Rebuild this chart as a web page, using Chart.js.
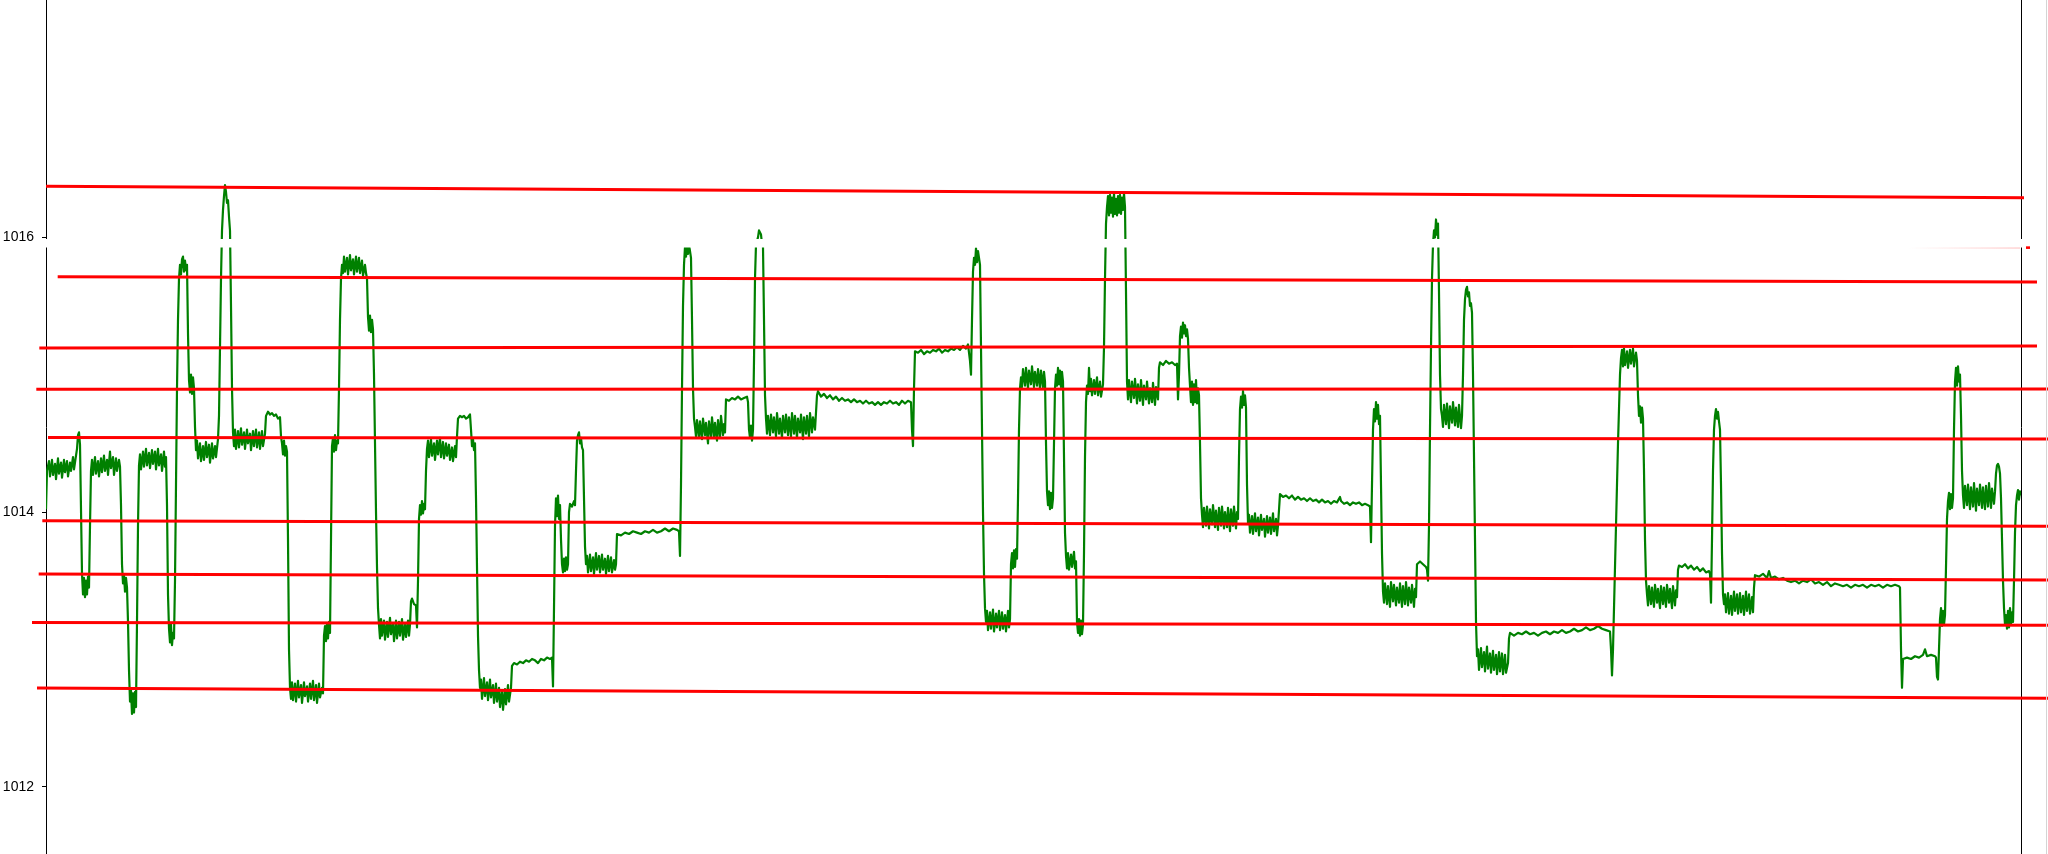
<!DOCTYPE html>
<html><head><meta charset="utf-8">
<script src="https://cdn.jsdelivr.net/npm/chart.js@4.4.1/dist/chart.umd.min.js"></script>
<style>html,body{margin:0;padding:0;background:#fff;overflow:hidden}#wrap{position:relative;width:2048px;height:854px}#edge{position:absolute;left:2046px;top:0;width:1px;height:854px;background:#d4d4d4}</style>
</head><body><div id="wrap"><canvas id="c" width="2048" height="854"></canvas><div id="edge"></div></div>
<script>
// ---- data ----
const yTicks = [1012, 1014, 1016];
const yRange = [1011.51, 1017.728];
const timeRange = [0, 1975];
// level lines: [tStart, hPaStart, tEnd, hPaEnd]
const levelLines = [
  [0, 1016.371, 1978, 1016.288],
  [11.7, 1015.713, 1991, 1015.675],
  [-6.7, 1015.194, 1991, 1015.209],
  [-9.7, 1014.893, 2002, 1014.896],
  [2, 1014.543, 2002, 1014.531],
  [-3.7, 1013.937, 2002, 1013.897],
  [-7.3, 1013.549, 2002, 1013.505],
  [-14, 1013.196, 2002, 1013.175],
  [-9, 1012.719, 2002, 1012.644]
];
const maskLine = [[-2, 1015.956], [1979, 1015.956]];
const maskTrace = [[1862, 1015.922], [1974, 1015.922]];
const maskTip = [[1980, 1015.925], [1984, 1015.925]];
const pressureSamples = [
[0,1014.02],[1,1014.30],[3,1014.37],[4,1014.26],[6,1014.38],[7,1014.27],[9,1014.35],[10,1014.24],[12,1014.39],[13,1014.28],[15,1014.36],[16,1014.25],[18,1014.38],[19,1014.29],[21,1014.37],[22,1014.26],[24,1014.36],[25,1014.30],[27,1014.40],[28,1014.31],[30,1014.41],[31,1014.46],[32,1014.56],[33,1014.58],[34,1014.49],
[36,1013.55],[37,1013.40],[38,1013.52],[39,1013.38],[40,1013.50],[41,1013.40],[42,1013.53],[43,1013.45],[44,1013.90],[45,1014.30],
[46,1014.38],[47,1014.27],[49,1014.40],[50,1014.28],[52,1014.37],[53,1014.26],[55,1014.39],[56,1014.29],[58,1014.41],[59,1014.30],[61,1014.38],[62,1014.27],[64,1014.44],[65,1014.32],[67,1014.40],[68,1014.27],[70,1014.39],[71,1014.30],[73,1014.38],[74,1014.33],
[75,1014.05],[76,1013.62],[77,1013.48],[78,1013.54],[79,1013.42],[80,1013.52],[81,1013.45],[82,1013.20],[83,1012.85],[84,1012.62],[85,1012.70],[86,1012.53],[87,1012.68],[88,1012.54],[89,1012.69],[90,1012.58],[91,1013.20],[92,1013.90],[93,1014.34],
[94,1014.42],[95,1014.31],[97,1014.44],[98,1014.33],[100,1014.46],[101,1014.34],[103,1014.43],[104,1014.32],[106,1014.45],[107,1014.35],[109,1014.44],[110,1014.31],[112,1014.46],[113,1014.34],[115,1014.42],[116,1014.30],[118,1014.44],[119,1014.33],[120,1014.40],
[121,1014.05],[122,1013.40],[123,1013.15],[124,1013.05],[125,1013.18],[126,1013.03],[127,1013.12],[128,1013.08],[129,1013.50],[130,1014.20],[131,1014.90],[132,1015.40],[133,1015.70],
[134,1015.80],[135,1015.73],[136,1015.84],[137,1015.86],[138,1015.75],[139,1015.83],[140,1015.76],[141,1015.80],[142,1015.30],[143,1014.96],[144,1014.87],[145,1015.00],[146,1014.86],[147,1014.98],[148,1014.90],[149,1014.62],[150,1014.45],
[151,1014.52],[152,1014.39],[154,1014.50],[155,1014.37],[157,1014.48],[158,1014.38],[160,1014.51],[161,1014.40],[163,1014.49],[164,1014.36],[166,1014.50],[167,1014.39],[169,1014.48],[170,1014.40],[172,1014.53],
[173,1014.70],[174,1015.20],[175,1015.70],[176,1016.05],[177,1016.20],[178,1016.30],[179,1016.38],[180,1016.33],[181,1016.25],[182,1016.27],[183,1016.15],[184,1016.05],[185,1015.50],[186,1014.90],[187,1014.58],
[188,1014.48],[189,1014.60],[190,1014.46],[192,1014.59],[193,1014.47],[195,1014.61],[196,1014.49],[198,1014.58],[199,1014.46],[201,1014.60],[202,1014.50],[204,1014.57],[205,1014.45],[207,1014.59],[208,1014.48],[210,1014.60],[211,1014.47],[213,1014.58],[214,1014.46],[216,1014.59],[217,1014.48],[219,1014.57],
[220,1014.70],[222,1014.73],[224,1014.71],[226,1014.72],[228,1014.70],[230,1014.71],[232,1014.68],[234,1014.69],[235,1014.55],[236,1014.50],[237,1014.42],[238,1014.52],[239,1014.41],[240,1014.48],[241,1014.44],
[242,1013.80],[243,1013.00],[244,1012.72],
[245,1012.64],[246,1012.76],[247,1012.63],[249,1012.75],[250,1012.62],[252,1012.77],[253,1012.65],[255,1012.74],[256,1012.61],[258,1012.76],[259,1012.66],[261,1012.73],[262,1012.62],[264,1012.75],[265,1012.64],[267,1012.77],[268,1012.63],[270,1012.74],[271,1012.61],[273,1012.75],[274,1012.65],[276,1012.72],[277,1012.68],
[278,1013.10],[279,1013.17],[280,1013.06],[281,1013.19],[282,1013.08],[283,1013.20],[284,1013.12],[285,1013.80],[286,1014.48],[287,1014.54],[288,1014.44],[289,1014.56],[290,1014.45],[291,1014.52],[292,1014.50],[293,1014.90],[294,1015.40],[295,1015.70],[296,1015.80],
[297,1015.74],[298,1015.86],[299,1015.75],[301,1015.85],[302,1015.73],[304,1015.87],[305,1015.76],[307,1015.84],[308,1015.73],[310,1015.86],[311,1015.75],[313,1015.85],[314,1015.74],[316,1015.83],[317,1015.72],[319,1015.80],[320,1015.74],[321,1015.70],
[322,1015.42],[323,1015.32],[324,1015.43],[325,1015.31],[326,1015.40],[327,1015.33],[328,1015.00],[329,1014.50],[330,1014.00],[331,1013.60],[332,1013.30],[333,1013.18],
[334,1013.08],[335,1013.22],[336,1013.10],[338,1013.21],[339,1013.07],[341,1013.20],[342,1013.09],[344,1013.23],[345,1013.11],[347,1013.19],[348,1013.06],[350,1013.21],[351,1013.08],[353,1013.20],[354,1013.10],[356,1013.22],[357,1013.07],[359,1013.19],[360,1013.09],[362,1013.21],[363,1013.10],[364,1013.18],
[365,1013.35],[366,1013.37],[368,1013.33],[370,1013.32],[371,1013.16],[372,1013.50],[373,1013.95],[374,1014.05],[375,1013.98],[376,1014.08],[377,1013.99],[378,1014.06],[379,1014.02],[380,1014.30],[381,1014.46],
[382,1014.52],[383,1014.40],[385,1014.53],[386,1014.41],[388,1014.50],[389,1014.38],[391,1014.52],[392,1014.42],[394,1014.54],[395,1014.40],[397,1014.51],[398,1014.39],[400,1014.50],[401,1014.41],[403,1014.49],[404,1014.38],[406,1014.47],[407,1014.37],[409,1014.48],[410,1014.40],[411,1014.55],
[412,1014.68],[414,1014.70],[416,1014.69],[418,1014.70],[420,1014.68],[422,1014.69],[424,1014.71],[425,1014.60],[426,1014.48],[427,1014.53],[428,1014.45],[429,1014.50],[430,1014.10],[431,1013.60],[432,1013.10],[433,1012.85],[434,1012.72],
[435,1012.78],[436,1012.64],[438,1012.79],[439,1012.66],[441,1012.76],[442,1012.63],[444,1012.78],[445,1012.65],[447,1012.74],[448,1012.61],[450,1012.75],[451,1012.62],[453,1012.72],[454,1012.58],[456,1012.70],[457,1012.56],[459,1012.71],[460,1012.60],[462,1012.74],[463,1012.62],[465,1012.72],
[466,1012.88],[468,1012.90],[471,1012.89],[474,1012.91],[477,1012.90],[480,1012.92],[483,1012.91],[486,1012.93],[489,1012.92],[492,1012.90],[495,1012.93],[498,1012.92],[501,1012.94],[504,1012.93],[506,1012.94],[507,1012.73],[508,1013.30],[509,1013.90],[510,1014.10],
[511,1013.97],[512,1014.12],[513,1013.95],[514,1014.05],[515,1013.80],[516,1013.62],[517,1013.56],[518,1013.66],[519,1013.57],[520,1013.67],[521,1013.58],[522,1013.62],[523,1014.00],[524,1014.06],[526,1014.04],[528,1014.08],[529,1014.05],[530,1014.30],[531,1014.52],[532,1014.56],[533,1014.58],[534,1014.50],[535,1014.54],[536,1014.47],[537,1014.45],[538,1014.10],[539,1013.75],[540,1013.62],
[541,1013.68],[542,1013.56],[544,1013.69],[545,1013.57],[547,1013.67],[548,1013.55],[550,1013.70],[551,1013.58],[553,1013.68],[554,1013.56],[556,1013.69],[557,1013.58],[559,1013.66],[560,1013.55],[562,1013.68],[563,1013.57],[565,1013.67],[566,1013.56],[568,1013.65],[569,1013.58],[570,1013.62],
[571,1013.84],[575,1013.83],[579,1013.85],[583,1013.84],[587,1013.86],[591,1013.85],[595,1013.84],[599,1013.86],[603,1013.85],[607,1013.87],[611,1013.85],[615,1013.86],[619,1013.88],[623,1013.86],[627,1013.88],[631,1013.87],[633,1013.86],[634,1013.68],[635,1014.20],[636,1014.90],[637,1015.50],[638,1015.80],[639,1015.93],
[640,1015.86],[641,1015.95],[642,1015.88],[643,1015.94],[644,1015.90],[645,1015.85],[646,1015.40],[647,1014.90],[648,1014.68],[649,1014.62],
[650,1014.55],[651,1014.67],[653,1014.54],[654,1014.66],[656,1014.53],[657,1014.68],[659,1014.56],[660,1014.65],[662,1014.50],[663,1014.66],[665,1014.55],[666,1014.69],[668,1014.54],[669,1014.65],[671,1014.52],[672,1014.67],[674,1014.54],[675,1014.70],[677,1014.56],[678,1014.64],[679,1014.58],
[680,1014.82],[683,1014.81],[686,1014.83],[689,1014.82],[692,1014.84],[695,1014.82],[698,1014.83],[701,1014.84],[702,1014.80],[703,1014.60],[704,1014.54],[705,1014.63],[706,1014.52],[707,1014.60],[708,1015.10],[709,1015.70],[710,1015.95],[712,1016.00],[713,1016.05],[715,1016.02],[716,1015.95],[717,1015.93],[718,1015.40],[719,1014.85],[720,1014.68],
[721,1014.57],[722,1014.70],[724,1014.56],[725,1014.71],[727,1014.58],[728,1014.69],[730,1014.55],[731,1014.72],[733,1014.57],[734,1014.68],[736,1014.54],[737,1014.70],[739,1014.58],[740,1014.71],[742,1014.56],[743,1014.69],[745,1014.55],[746,1014.72],[748,1014.57],[749,1014.70],[751,1014.54],[752,1014.68],[754,1014.58],[755,1014.71],[757,1014.53],[758,1014.69],[760,1014.57],[761,1014.70],[763,1014.55],[764,1014.72],[766,1014.58],[767,1014.69],[769,1014.60],
[771,1014.85],[772,1014.88],[775,1014.84],[778,1014.86],[781,1014.83],[784,1014.85],[787,1014.82],[790,1014.84],[793,1014.81],[796,1014.83],[799,1014.81],[802,1014.82],[805,1014.80],[808,1014.82],[811,1014.80],[814,1014.81],[817,1014.79],[820,1014.81],[823,1014.79],[826,1014.80],[829,1014.78],[832,1014.80],[835,1014.78],[838,1014.80],[841,1014.79],[844,1014.81],[847,1014.79],[850,1014.80],[853,1014.78],[856,1014.81],[859,1014.79],[862,1014.81],[865,1014.80],[866,1014.60],[867,1014.48],[868,1014.90],
[869,1015.17],[872,1015.16],[875,1015.18],[878,1015.15],[881,1015.17],[884,1015.16],[887,1015.18],[890,1015.17],[893,1015.19],[896,1015.16],[899,1015.18],[902,1015.17],[905,1015.19],[908,1015.18],[911,1015.20],[914,1015.18],[917,1015.21],[920,1015.19],[922,1015.22],[924,1015.10],[925,1015.00],[926,1015.40],[927,1015.75],[928,1015.85],[929,1015.80],[930,1015.92],[931,1015.82],[932,1015.90],[933,1015.85],[934,1015.80],[935,1015.20],[936,1014.60],[937,1014.00],[938,1013.55],[939,1013.30],[940,1013.20],
[941,1013.28],[942,1013.14],[944,1013.27],[945,1013.15],[947,1013.29],[948,1013.13],[950,1013.26],[951,1013.16],[953,1013.28],[954,1013.14],[956,1013.27],[957,1013.15],[959,1013.25],[960,1013.13],[962,1013.28],[963,1013.16],[964,1013.22],
[965,1013.62],[966,1013.70],[967,1013.59],[968,1013.72],[969,1013.60],[970,1013.73],[971,1013.66],[972,1014.10],[973,1014.60],[974,1014.90],[975,1014.98],
[976,1014.91],[977,1015.04],[979,1014.92],[980,1015.05],[982,1014.90],[983,1015.03],[985,1014.93],[986,1015.06],[988,1014.91],[989,1015.02],[991,1014.92],[992,1015.04],[994,1014.90],[995,1015.03],[997,1014.91],[998,1015.02],[999,1014.95],
[1000,1014.50],[1001,1014.15],[1002,1014.05],[1003,1014.15],[1004,1014.02],[1005,1014.14],[1006,1014.03],[1007,1014.10],[1008,1014.50],[1009,1014.90],[1010,1015.00],[1011,1014.92],[1012,1015.05],[1013,1014.93],[1014,1015.03],[1015,1014.91],[1016,1015.02],[1017,1014.95],[1018,1014.40],[1019,1013.85],[1020,1013.68],[1021,1013.59],[1022,1013.70],[1023,1013.58],[1025,1013.69],[1026,1013.60],[1028,1013.71],[1029,1013.59],[1030,1013.64],[1031,1013.20],[1032,1013.12],[1033,1013.22],[1034,1013.10],[1035,1013.21],[1036,1013.11],[1037,1013.18],[1038,1013.70],[1039,1014.40],[1040,1014.80],[1041,1014.92],
[1042,1014.86],[1043,1015.05],[1044,1014.88],[1045,1014.97],[1046,1014.85],[1048,1014.96],[1049,1014.86],[1051,1014.98],[1052,1014.85],[1054,1014.95],[1055,1014.84],[1057,1014.93],
[1058,1015.20],[1059,1015.70],[1060,1016.10],[1061,1016.22],
[1062,1016.30],[1063,1016.16],[1064,1016.31],[1065,1016.18],[1066,1016.29],[1067,1016.15],[1068,1016.32],[1069,1016.17],[1070,1016.28],[1071,1016.16],[1072,1016.30],[1073,1016.18],[1074,1016.31],[1075,1016.17],[1076,1016.29],[1077,1016.20],[1078,1016.32],[1079,1016.22],
[1080,1015.60],[1081,1014.95],
[1082,1014.82],[1083,1014.96],[1085,1014.80],[1086,1014.95],[1088,1014.83],[1089,1014.97],[1091,1014.79],[1092,1014.93],[1094,1014.81],[1095,1014.96],[1097,1014.78],[1098,1014.92],[1100,1014.82],[1101,1014.95],[1103,1014.79],[1104,1014.90],[1106,1014.80],[1107,1014.94],[1109,1014.78],[1110,1014.91],[1112,1014.82],
[1113,1015.05],[1114,1015.09],[1117,1015.07],[1120,1015.10],[1123,1015.08],[1126,1015.09],[1129,1015.07],[1131,1015.08],[1132,1014.82],[1133,1015.00],[1134,1015.28],[1135,1015.35],[1136,1015.27],[1137,1015.38],[1138,1015.30],[1139,1015.36],[1140,1015.28],[1141,1015.33],[1142,1015.26],[1143,1015.05],[1144,1014.92],[1145,1014.80],[1146,1014.95],[1147,1014.78],[1148,1014.93],[1149,1014.80],[1150,1014.96],[1151,1014.79],[1152,1014.90],[1153,1014.85],[1154,1014.50],[1155,1014.10],[1156,1013.98],
[1157,1013.89],[1158,1014.03],[1160,1013.90],[1161,1014.04],[1163,1013.88],[1164,1014.02],[1166,1013.91],[1167,1014.05],[1169,1013.89],[1170,1014.01],[1172,1013.87],[1173,1014.03],[1175,1013.90],[1176,1014.04],[1178,1013.88],[1179,1014.00],[1181,1013.89],[1182,1014.03],[1184,1013.86],[1185,1014.02],[1187,1013.90],[1188,1014.04],[1190,1013.88],[1191,1014.00],[1192,1013.95],
[1193,1014.40],[1194,1014.75],[1195,1014.84],[1196,1014.76],[1197,1014.88],[1198,1014.78],[1199,1014.85],[1200,1014.76],[1201,1014.20],[1202,1013.92],
[1203,1013.98],[1204,1013.85],[1206,1013.97],[1207,1013.84],[1209,1013.99],[1210,1013.86],[1212,1013.96],[1213,1013.83],[1215,1013.98],[1216,1013.87],[1218,1013.95],[1219,1013.82],[1221,1013.97],[1222,1013.85],[1224,1013.96],[1225,1013.84],[1227,1013.99],[1228,1013.86],[1230,1013.95],[1231,1013.83],[1232,1013.90],
[1234,1014.13],[1237,1014.11],[1240,1014.12],[1243,1014.10],[1246,1014.12],[1249,1014.09],[1252,1014.11],[1255,1014.09],[1258,1014.10],[1261,1014.08],[1264,1014.10],[1267,1014.08],[1270,1014.09],[1273,1014.07],[1276,1014.09],[1279,1014.07],[1282,1014.08],[1285,1014.06],[1288,1014.08],[1291,1014.07],[1294,1014.11],[1295,1014.08],[1298,1014.06],[1301,1014.07],[1304,1014.05],[1307,1014.07],[1310,1014.06],[1313,1014.07],[1316,1014.05],[1319,1014.06],[1322,1014.05],[1324,1014.04],[1325,1013.78],[1326,1014.20],[1327,1014.60],[1328,1014.75],[1329,1014.66],[1330,1014.80],[1331,1014.68],[1332,1014.78],[1333,1014.64],[1334,1014.70],[1335,1014.20],[1336,1013.70],[1337,1013.42],
[1338,1013.34],[1339,1013.48],[1341,1013.33],[1342,1013.46],[1344,1013.31],[1345,1013.49],[1347,1013.35],[1348,1013.47],[1350,1013.32],[1351,1013.45],[1353,1013.34],[1354,1013.48],[1356,1013.31],[1357,1013.46],[1359,1013.33],[1360,1013.49],[1362,1013.32],[1363,1013.45],[1365,1013.34],[1366,1013.47],[1368,1013.31],[1369,1013.44],[1370,1013.38],
[1371,1013.62],[1374,1013.64],[1377,1013.62],[1380,1013.60],[1381,1013.58],[1382,1013.50],[1383,1013.90],[1384,1014.60],[1385,1015.20],[1386,1015.70],[1387,1015.95],[1388,1016.05],[1389,1016.00],[1390,1016.13],[1391,1016.02],[1392,1016.10],[1393,1015.60],[1394,1015.00],[1395,1014.75],[1396,1014.70],
[1397,1014.62],[1398,1014.78],[1400,1014.64],[1401,1014.79],[1403,1014.61],[1404,1014.77],[1406,1014.65],[1407,1014.80],[1409,1014.63],[1410,1014.76],[1412,1014.62],[1413,1014.78],[1415,1014.61],[1416,1014.70],
[1417,1015.00],[1418,1015.40],[1419,1015.55],[1420,1015.62],[1421,1015.64],[1422,1015.57],[1423,1015.60],[1424,1015.50],[1425,1015.52],[1426,1015.45],[1427,1015.00],[1428,1014.40],[1429,1013.80],[1430,1013.20],[1431,1012.95],
[1432,1013.00],[1433,1012.85],[1435,1013.01],[1436,1012.87],[1438,1012.98],[1439,1012.84],[1441,1013.02],[1442,1012.86],[1444,1012.97],[1445,1012.83],[1447,1012.99],[1448,1012.85],[1450,1012.96],[1451,1012.82],[1453,1012.98],[1454,1012.84],[1456,1012.97],[1457,1012.82],[1459,1012.96],[1460,1012.83],[1462,1012.90],
[1463,1013.08],[1464,1013.12],[1468,1013.10],[1472,1013.12],[1476,1013.11],[1480,1013.13],[1484,1013.11],[1488,1013.12],[1492,1013.10],[1496,1013.12],[1500,1013.13],[1504,1013.11],[1508,1013.13],[1512,1013.12],[1516,1013.14],[1520,1013.12],[1524,1013.13],[1528,1013.15],[1532,1013.13],[1536,1013.14],[1540,1013.16],[1544,1013.14],[1548,1013.15],[1552,1013.17],[1556,1013.15],[1560,1013.14],[1564,1013.13],[1565,1013.00],[1566,1012.81],[1567,1013.00],[1568,1013.30],[1570,1013.90],[1572,1014.50],[1574,1015.00],[1575,1015.12],
[1576,1015.18],[1577,1015.06],[1578,1015.19],[1579,1015.07],[1581,1015.17],[1582,1015.05],[1584,1015.18],[1585,1015.08],[1587,1015.19],[1588,1015.06],[1590,1015.16],[1591,1015.10],[1592,1014.85],[1593,1014.70],[1594,1014.77],[1595,1014.65],[1596,1014.76],[1597,1014.68],[1598,1014.30],[1599,1013.80],[1600,1013.50],[1601,1013.40],
[1602,1013.32],[1603,1013.46],[1605,1013.33],[1606,1013.45],[1608,1013.31],[1609,1013.47],[1611,1013.34],[1612,1013.44],[1614,1013.30],[1615,1013.46],[1617,1013.33],[1618,1013.45],[1620,1013.31],[1621,1013.47],[1623,1013.34],[1624,1013.44],[1626,1013.30],[1627,1013.46],[1629,1013.32],[1630,1013.43],[1631,1013.38],
[1632,1013.58],[1633,1013.61],[1636,1013.60],[1639,1013.62],[1642,1013.59],[1645,1013.61],[1648,1013.58],[1651,1013.60],[1654,1013.57],[1657,1013.59],[1660,1013.56],[1663,1013.57],[1664,1013.55],[1665,1013.34],[1666,1013.80],[1667,1014.30],[1668,1014.60],[1669,1014.70],[1670,1014.75],[1671,1014.68],[1672,1014.73],[1673,1014.66],[1674,1014.60],[1675,1014.20],[1676,1013.70],[1677,1013.40],[1678,1013.33],
[1679,1013.40],[1680,1013.27],[1682,1013.41],[1683,1013.26],[1685,1013.39],[1686,1013.25],[1688,1013.42],[1689,1013.28],[1691,1013.40],[1692,1013.26],[1694,1013.41],[1695,1013.27],[1697,1013.39],[1698,1013.25],[1700,1013.42],[1701,1013.28],[1703,1013.40],[1704,1013.26],[1706,1013.38],[1707,1013.27],
[1708,1013.45],[1709,1013.54],[1713,1013.53],[1717,1013.55],[1721,1013.52],[1723,1013.57],[1725,1013.52],[1729,1013.53],[1733,1013.51],[1737,1013.52],[1741,1013.50],[1745,1013.49],[1749,1013.50],[1753,1013.48],[1757,1013.50],[1761,1013.49],[1765,1013.51],[1769,1013.48],[1773,1013.49],[1777,1013.47],[1781,1013.49],[1785,1013.46],[1789,1013.48],[1793,1013.47],[1797,1013.46],[1801,1013.47],[1805,1013.45],[1809,1013.47],[1813,1013.46],[1817,1013.47],[1821,1013.45],[1825,1013.47],[1829,1013.46],[1833,1013.47],[1837,1013.45],[1841,1013.47],[1845,1013.46],[1849,1013.47],[1853,1013.46],[1854,1013.45],[1855,1013.00],[1856,1012.72],
[1857,1012.93],[1861,1012.94],[1865,1012.93],[1869,1012.95],[1873,1012.94],[1877,1012.96],[1879,1013.00],[1881,1012.95],[1885,1012.96],[1889,1012.95],[1890,1012.94],[1891,1012.80],[1892,1012.78],[1893,1013.00],[1894,1013.22],[1895,1013.30],[1896,1013.17],[1897,1013.28],[1898,1013.18],[1899,1013.25],[1900,1013.60],[1901,1013.95],[1902,1014.08],[1903,1014.14],[1904,1014.02],[1905,1014.13],[1906,1014.03],[1907,1014.10],[1908,1014.60],[1909,1014.95],[1910,1015.05],[1911,1014.92],[1912,1015.06],[1913,1014.95],[1914,1015.00],[1915,1014.70],[1916,1014.30],[1917,1014.12],
[1918,1014.03],[1919,1014.19],[1921,1014.05],[1922,1014.20],[1924,1014.02],[1925,1014.18],[1927,1014.04],[1928,1014.21],[1930,1014.01],[1931,1014.17],[1933,1014.05],[1934,1014.20],[1936,1014.03],[1937,1014.18],[1939,1014.02],[1940,1014.19],[1942,1014.04],[1943,1014.21],[1945,1014.03],[1946,1014.17],[1948,1014.06],[1949,1014.15],
[1950,1014.28],[1951,1014.34],[1952,1014.35],[1953,1014.33],[1954,1014.28],[1955,1014.10],[1956,1013.80],[1957,1013.50],[1958,1013.30],[1959,1013.18],[1960,1013.25],[1961,1013.15],[1962,1013.28],[1963,1013.16],[1964,1013.30],[1965,1013.18],[1966,1013.27],[1967,1013.20],[1968,1013.50],[1969,1013.85],[1970,1014.05],[1971,1014.12],[1972,1014.16],[1973,1014.09],[1974,1014.15],[1975,1014.12]
];

// ---- chart ----
const toXY = arr => arr.map(p => ({x: p[0], y: p[1]}));
const RED = '#ff0000';
const datasets = [];
datasets.push({ data: toXY(maskTip), borderColor: RED, borderWidth: 2.6, order: 0, clip: false, borderCapStyle: 'butt' });
datasets.push({ data: toXY(maskTrace), borderWidth: 1, order: 0, clip: false,
  borderColor: (c) => {
    const ch = c.chart, xs = ch.scales && ch.scales.x;
    if (!xs || !ch.chartArea) return 'rgba(255,80,80,0.2)';
    const a = xs.getPixelForValue(maskTrace[0][0]), b = xs.getPixelForValue(maskTrace[1][0]);
    if (!isFinite(a) || !isFinite(b)) return 'rgba(255,80,80,0.2)';
    const g = ch.ctx.createLinearGradient(a, 0, b, 0);
    g.addColorStop(0, 'rgba(255,80,80,0)');
    g.addColorStop(1, 'rgba(255,60,60,0.35)');
    return g;
  } });
datasets.push({ data: toXY(maskLine), borderColor: '#ffffff', borderWidth: 8.5, order: 1, clip: false, borderCapStyle: 'butt' });
levelLines.forEach(l => datasets.push({ data: [{x: l[0], y: l[1]}, {x: l[2], y: l[3]}], borderColor: RED, borderWidth: 3, order: 2, clip: false, borderCapStyle: 'butt' }));
datasets.push({ data: toXY(pressureSamples), borderColor: '#008000', borderWidth: 2.2, order: 3, borderJoinStyle: 'round' });

const tickFont = { family: "'Liberation Sans', Arial, sans-serif", size: 14 };

new Chart(document.getElementById('c'), {
  type: 'scatter',
  data: { datasets },
  options: {
    responsive: false, animation: false, devicePixelRatio: 1,
    showLine: true,
    elements: { point: { radius: 0, hoverRadius: 0 }, line: { tension: 0, fill: false } },
    layout: { padding: { left: 0, right: 27, top: 0, bottom: 0 } },
    plugins: { legend: { display: false }, tooltip: { enabled: false } },
    events: [],
    scales: {
      x: { type: 'linear', min: timeRange[0], max: timeRange[1], display: false },
      y: {
        type: 'linear', position: 'left', min: yRange[0], max: yRange[1],
        afterBuildTicks: s => { s.ticks = yTicks.map(v => ({ value: v })); },
        afterFit: s => { s.width = 46; s.paddingTop = 0; s.paddingBottom = 0; },
        ticks: { color: '#000', font: tickFont, padding: 8, autoSkip: false, callback: v => String(v) },
        grid: { drawOnChartArea: false, drawTicks: true, tickLength: 4, color: '#000', tickWidth: 1 },
        border: { display: true, color: '#000', width: 1 }
      },
      y2: {
        type: 'linear', position: 'right', min: yRange[0], max: yRange[1],
        afterFit: s => { s.width = 0; s.paddingTop = 0; s.paddingBottom = 0; },
        ticks: { display: false },
        grid: { display: false, drawTicks: false },
        border: { display: true, color: '#000', width: 1 }
      }
    }
  }
});
</script>
</body></html>
